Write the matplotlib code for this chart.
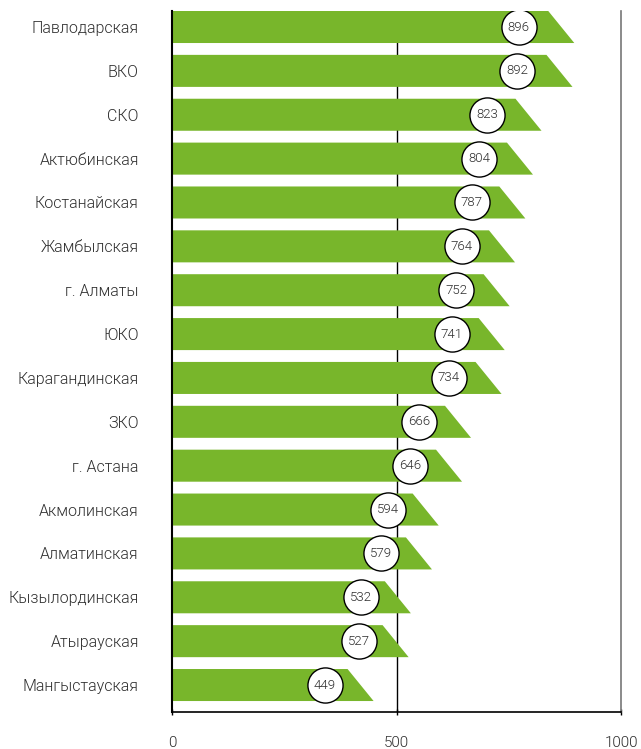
import matplotlib
matplotlib.use("Agg")
import matplotlib.pyplot as plt
from matplotlib.patches import Polygon

regions = ["Павлодарская", "ВКО", "СКО", "Актюбинская", "Костанайская", "Жамбылская",
           "г. Алматы", "ЮКО", "Карагандинская", "ЗКО", "г. Астана", "Акмолинская",
           "Алматинская", "Кызылординская", "Атырауская", "Мангыстауская"]
values = [896, 892, 823, 804, 787, 764, 752, 741, 734, 666, 646, 594, 579, 532, 527, 449]
xticks = [0, 500, 1000]

green = "#78b62b"
txt = "#2f2f2f"
plt.rcParams['font.family'] = ['Roboto', 'DejaVu Sans']
W = 300

fig = plt.figure(figsize=(6.41, 7.49), dpi=100)
ax = fig.add_axes([172/641, 37/749, (621-172)/641, (712-11)/749])

h = 0.73
slant = 58
for i, v in enumerate(values):
    y = i
    poly = Polygon([(0, y - h/2), (v - slant, y - h/2), (v, y + h/2), (0, y + h/2)],
                   closed=True, facecolor=green, edgecolor='none', zorder=2)
    ax.add_patch(poly)

cx = [0.966 * v - 93 for v in values]
ax.scatter(cx, range(len(values)), s=640, facecolor='white', edgecolor='black',
           linewidth=1.0, zorder=3)
for i, v in enumerate(values):
    ax.text(cx[i], i, str(v), ha='center', va='center', fontsize=9.5, color=txt,
            fontweight=W, zorder=4)

ax.axvline(500, color='black', lw=1.0, zorder=1)

ax.set_xlim(0, 1000)
ax.set_ylim(15.615, -0.365)
ax.set_xticks(xticks)
ax.set_xticklabels([str(t) for t in xticks], fontsize=11, color=txt, fontweight=W)
ax.set_yticks(range(len(regions)))
ax.set_yticklabels(regions, fontsize=11.5, color=txt, fontweight=W)
ax.tick_params(axis='y', length=0, pad=24)
ax.tick_params(axis='x', length=5, width=1, direction='inout', pad=15, colors='black', labelcolor=txt)

ax.spines['top'].set_visible(False)
ax.spines['right'].set_color('#777777')
ax.spines['right'].set_linewidth(1.2)
ax.spines['left'].set_linewidth(1.5)
ax.spines['bottom'].set_linewidth(1.2)

fig.savefig("out.png", dpi=100)
